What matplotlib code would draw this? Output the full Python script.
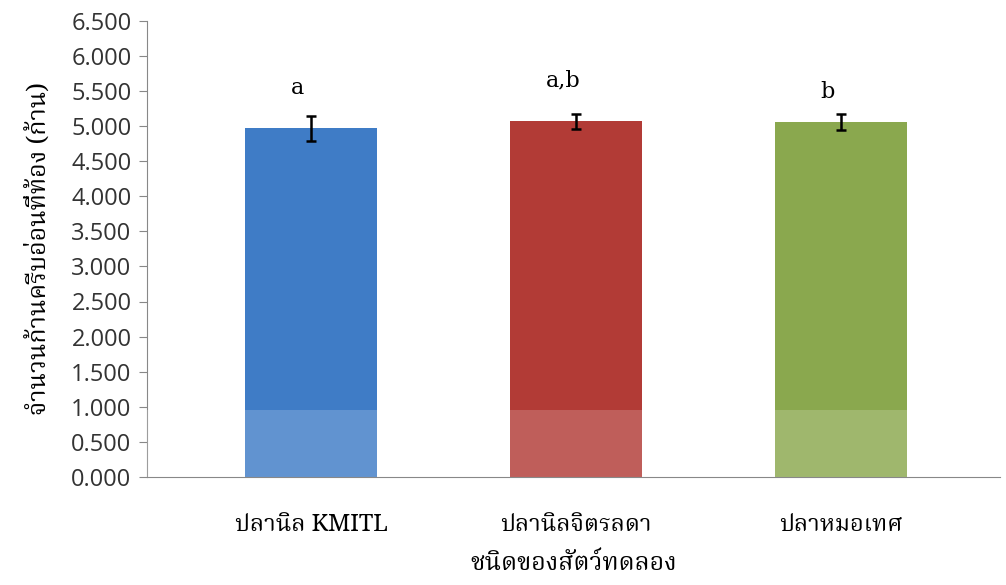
import matplotlib
matplotlib.use("Agg")
import matplotlib.pyplot as plt
from matplotlib import font_manager
import numpy as np

# data
species = ["ปลานิล KMITL", "ปลานิลจิตรลดา", "ปลาหมอเทศ"]
means = [4.97, 5.07, 5.06]
sd = [0.18, 0.11, 0.11]
letters = ["a", "a,b", "b"]
letter_y = [5.54, 5.66, 5.49]
colors = ["#3f7cc6", "#b23b36", "#8aa84e"]
yticks = np.arange(0, 6.51, 0.5)

# pick a font that has Thai glyphs, if any is around
names = {f.name for f in font_manager.fontManager.ttflist}
thai = [n for n in ["Noto Serif Thai", "Noto Sans Thai", "Loma", "Garuda", "Norasi",
                    "Tlwg Typo", "Sarabun", "TH Sarabun New", "Tahoma"] if n in names]
plt.rcParams["font.family"] = thai + ["DejaVu Sans"]

fig = plt.figure(figsize=(10.06, 5.85), dpi=100)
ax = fig.add_axes([0.146, 0.185, 0.848, 0.779])

x = np.arange(len(species))
ax.bar(x, means, width=0.5, color=colors, zorder=2)
ax.errorbar(x, means, yerr=sd, fmt="none", ecolor="black", elinewidth=1.8,
            capsize=3.5, capthick=1.8, zorder=3)
# lighter band at the bottom of the scan
ax.axhspan(0, 0.95, color="white", alpha=0.18, lw=0, zorder=4)

for xi, t, ty in zip(x, letters, letter_y):
    ax.text(xi - 0.05, ty, t, ha="center", va="center", fontsize=16,
            family="DejaVu Serif")

ax.set_xlim(-0.62, 2.6)
ax.set_ylim(0, 6.5)
ax.set_yticks(yticks)
ax.set_yticklabels([f"{v:.3f}" for v in yticks], fontsize=17, color="#333333",
                   family=["Open Sans", "DejaVu Sans"])
ax.set_xticks(x)
ax.set_xticklabels(species, fontsize=17)
ax.tick_params(axis="x", length=0, pad=26)
ax.tick_params(axis="y", length=6, color="#888888", direction="out", pad=5)
for side in ["top", "right"]:
    ax.spines[side].set_visible(False)
ax.spines["left"].set_color("#888888")
ax.spines["bottom"].set_color("#888888")

ax.set_ylabel("จำนวนก้านครีบอ่อนที่ท้อง (ก้าน)", fontsize=18, fontweight="bold", labelpad=14)
ax.set_xlabel("ชนิดของสัตว์ทดลอง", fontsize=18, fontweight="bold", labelpad=10)

fig.savefig("out.png", dpi=100)
